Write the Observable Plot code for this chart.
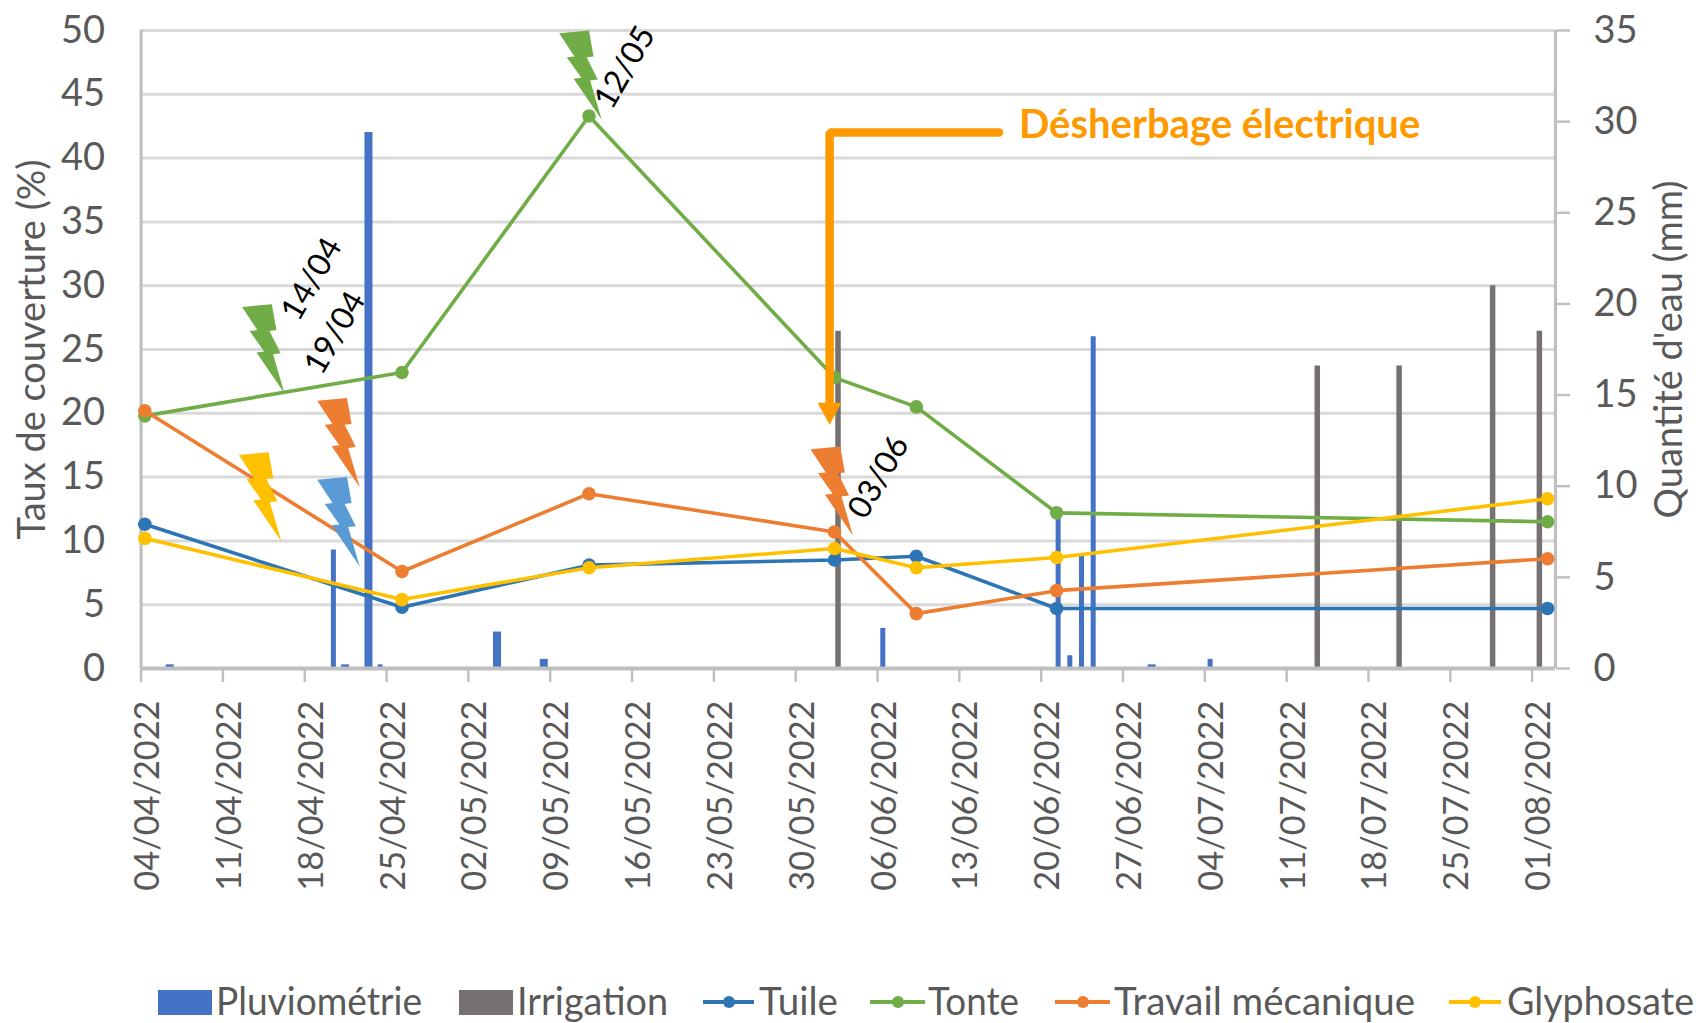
<!DOCTYPE html>
<html lang="fr"><head><meta charset="utf-8">
<script src="https://cdn.jsdelivr.net/npm/d3@7"></script>
<script src="https://cdn.jsdelivr.net/npm/@observablehq/plot@0.6"></script>
<style>
html,body{margin:0;padding:0;background:#fff;overflow:hidden;width:1696px;height:1023px}
#legend{position:relative;height:58px;width:1696px;font-family:Lato,sans-serif;color:#595959}
#legend .t{position:absolute;top:2px;font-size:38px;line-height:48px;white-space:nowrap;transform-origin:left center}
#legend .s{position:absolute}
</style></head><body><div id="chart"></div><div id="legend"></div>
<script>
// Sampling dates of the cover rate (%)
const surveyDates = ["2022-04-04","2022-04-26","2022-05-12","2022-06-02","2022-06-09","2022-06-21","2022-08-02"];
const tuile      = [11.3, 4.8,  8.1,  8.5, 8.8,  4.7,  4.7];
const tonte      = [19.8, 23.2, 43.3, 22.8, 20.5, 12.2, 11.5];
const travail    = [20.2, 7.6,  13.7, 10.7, 4.3,  6.1,  8.6];
const glyphosate = [10.2, 5.4,  7.9,  9.4, 7.9,  8.7,  13.3];

// Water quantities (mm)
const rainDates = ["2022-04-06","2022-04-20","2022-04-21","2022-04-23","2022-04-24","2022-05-04","2022-05-08","2022-06-06","2022-06-21","2022-06-22","2022-06-23","2022-06-24","2022-06-29","2022-07-04"];
const rainMm    = [0.2, 6.5, 0.2, 29.4, 0.2, 2.0, 0.5, 2.2, 8.3, 0.7, 6.2, 18.2, 0.2, 0.5];
const irrigDates = ["2022-06-02","2022-07-13","2022-07-20","2022-07-28","2022-08-01"];
const irrigMm    = [18.5, 16.6, 16.6, 21, 18.5];
const wideRain = ["2022-04-06","2022-04-21","2022-04-23","2022-05-04","2022-05-08","2022-06-29"];

const tickDates = ["2022-04-04","2022-04-11","2022-04-18","2022-04-25","2022-05-02","2022-05-09","2022-05-16","2022-05-23","2022-05-30","2022-06-06","2022-06-13","2022-06-20","2022-06-27","2022-07-04","2022-07-11","2022-07-18","2022-07-25","2022-08-01"];
const coverTicks = [0,5,10,15,20,25,30,35,40,45,50];
const waterTicks = [0,5,10,15,20,25,30,35];

// Annotations: day offset since 04/04 and value on the cover axis
const boltDays   = [12.27, 39.4, 18.7, 12.0, 18.7, 60.9];
const boltCover  = [21.55, 43.0, 14.2, 9.95, 8.0, 10.4];
const boltColors = ["#70ad47","#70ad47","#ed7d31","#ffc000","#5b9bd5","#ed7d31"];
const noteLabels = ["14/04","19/04","12/05","03/06"];
const noteDays   = [14.6, 16.6, 41.4, 63.1];
const noteCover  = [30.5, 26.3, 47.1, 15.0];
const arrowDays  = [73.4, 58.9, 58.9];
const arrowCover = [42, 42, 20.6];

const legendNames = ["Pluviométrie","Irrigation","Tuile","Tonte","Travail mécanique","Glyphosate"];
const legendColors = ["#4472c4","#767171","#2e75b6","#70ad47","#ed7d31","#ffc000"];

const T0 = Date.UTC(2022,3,4), DAY = 864e5;
const atDay = n => new Date(T0 + n*DAY);
const date = s => new Date(s+"T00:00:00Z");
const shift = (s,f) => new Date(+date(s)+f*DAY);
const mm2cover = v => v*50/35;
const FONT = "#595959", AXIS = "#bfbfbf", GRID = "#d9d9d9", ORANGE = "#ff9900";
const noLabel = () => "";

const series = (vals,color) => {
  const rows = surveyDates.map((d,i)=>({x:shift(d,.32),y:vals[i]}));
  return [Plot.line(rows,{x:"x",y:"y",stroke:color,strokeWidth:3.6,curve:"linear"}),
          Plot.dot(rows,{x:"x",y:"y",fill:color,r:6.8})];
};
const boltSymbol = {draw(c){
  const p=[[-42.5,-86.6],[-12.7,-89.3],[-8.1,-63.4],[-15,-62.5],[-3.9,-40.2],[-11.5,-39.3],[0,0],[-28,-41.1],[-20.3,-42],[-34.9,-62.5],[-27.2,-63.4]];
  c.moveTo(...p[0]); p.slice(1).forEach(q=>c.lineTo(...q)); c.closePath();
}};
const headSymbol = {draw(c){ c.moveTo(0,0); c.lineTo(-12,-22); c.lineTo(12,-22); c.closePath(); }};

const chart = Plot.plot({
  width:1696, height:965, marginLeft:140.6, marginRight:141, marginTop:30, marginBottom:297,
  style:{fontFamily:"Lato, sans-serif",background:"#fff",overflow:"visible"},
  x:{type:"utc",domain:[atDay(0),atDay(121)],axis:null},
  y:{domain:[0,50],axis:null},
  color:{type:"identity"},
  marks:[
    Plot.ruleY(coverTicks,{stroke:GRID,strokeWidth:3}),
    Plot.ruleX([atDay(0),atDay(121)],{stroke:AXIS,strokeWidth:3.2}),
    Plot.axisX(tickDates.map(date),{tickSize:14,tickFormat:noLabel,label:null,stroke:AXIS,strokeWidth:2.4}),
    Plot.axisY(waterTicks.map(mm2cover),{anchor:"right",tickSize:14,tickFormat:noLabel,label:null,stroke:AXIS,strokeWidth:2.4}),
    Plot.axisY(coverTicks,{anchor:"left",tickSize:0,tickPadding:36,fontSize:38,fill:FONT,label:null}),
    Plot.axisY(waterTicks.map(mm2cover),{anchor:"right",tickSize:0,tickPadding:38,fontSize:38,fill:FONT,label:null,tickFormat:v=>String(Math.round(v*35/50))}),
    Plot.text(tickDates,{x:d=>shift(d,.6),y:()=>0,dy:32,text:d=>d.slice(8,10)+"/"+d.slice(5,7)+"/"+d.slice(0,4),rotate:-90,textAnchor:"end",lineAnchor:"middle",fontSize:34.3,fill:FONT}),
    Plot.text(["Taux de couverture (%)"],{frameAnchor:"left",dx:-108,rotate:-90,textAnchor:"middle",fontSize:38,fill:FONT}),
    Plot.text(["Quantité d'eau (mm)"],{frameAnchor:"right",dx:114,rotate:-90,textAnchor:"middle",fontSize:38,fill:FONT}),
    Plot.ruleX(rainDates.map((d,i)=>({x:shift(d,.45),v:mm2cover(rainMm[i]),w:wideRain.includes(d)?8:5})),{x:"x",y1:()=>0,y2:"v",stroke:"#4472c4",strokeWidth:"w"}),
    Plot.ruleX(irrigDates.map((d,i)=>({x:shift(d,.62),v:mm2cover(irrigMm[i])})),{x:"x",y1:()=>0,y2:"v",stroke:"#767171",strokeWidth:5.5}),
    Plot.ruleY([0],{stroke:AXIS,strokeWidth:4}),
    ...series(tuile,"#2e75b6"),
    ...series(tonte,"#70ad47"),
    ...series(travail,"#ed7d31"),
    ...series(glyphosate,"#ffc000"),
    Plot.line(arrowDays.map((d,i)=>({x:atDay(d),y:arrowCover[i]})),{x:"x",y:"y",stroke:ORANGE,strokeWidth:8.5,strokeLinejoin:"miter"}),
    Plot.dot([{x:atDay(58.9),y:19.1}],{x:"x",y:"y",symbol:headSymbol,fill:ORANGE,r:10}),
    Plot.dot(boltDays.map((d,i)=>({x:atDay(d),y:boltCover[i],c:boltColors[i]})),{x:"x",y:"y",symbol:boltSymbol,fill:"c",r:10}),
    Plot.text(noteLabels.map((t,i)=>({t,x:atDay(noteDays[i]),y:noteCover[i]})),{x:"x",y:"y",text:"t",rotate:-60,fontSize:32,fill:"#000",lineAnchor:"middle"}),
    Plot.text(["Désherbage électrique"],{x:()=>atDay(75.1),y:()=>42.6,textAnchor:"start",lineAnchor:"middle",fontSize:40,fontWeight:700,fill:ORANGE})
  ]
});
document.getElementById("chart").appendChild(chart);

// Legend layout (x of swatch start, swatch end, text start, text end)
const legendX = [[158,212,216,422],[459,513,517,668],[703,754,759,838],[870,925,928,1019],[1055,1110,1114,1415],[1449,1501,1507,1694]];
const lg = document.getElementById("legend");
legendNames.forEach((n,i)=>{
  const [a,b,c,e]=legendX[i];
  if(i<2){
    const s=document.createElement("div");s.className="s";
    s.style.cssText=`left:${a}px;width:${b-a}px;top:25px;height:25px;background:${legendColors[i]}`;
    lg.appendChild(s);
  } else {
    const s=document.createElement("div");s.className="s";
    s.style.cssText=`left:${a}px;width:${b-a}px;top:35px;height:4px;background:${legendColors[i]}`;
    lg.appendChild(s);
    const m=document.createElement("div");m.className="s";
    m.style.cssText=`left:${(a+b)/2-6}px;width:12px;top:31px;height:12px;border-radius:50%;background:${legendColors[i]}`;
    lg.appendChild(m);
  }
  const t=document.createElement("span");t.className="t";t.textContent=n;t.style.left=c+"px";t.style.top="11px";
  lg.appendChild(t);
  t.style.transform=`scaleX(${(e-c)/t.getBoundingClientRect().width})`;
});
</script></body></html>
